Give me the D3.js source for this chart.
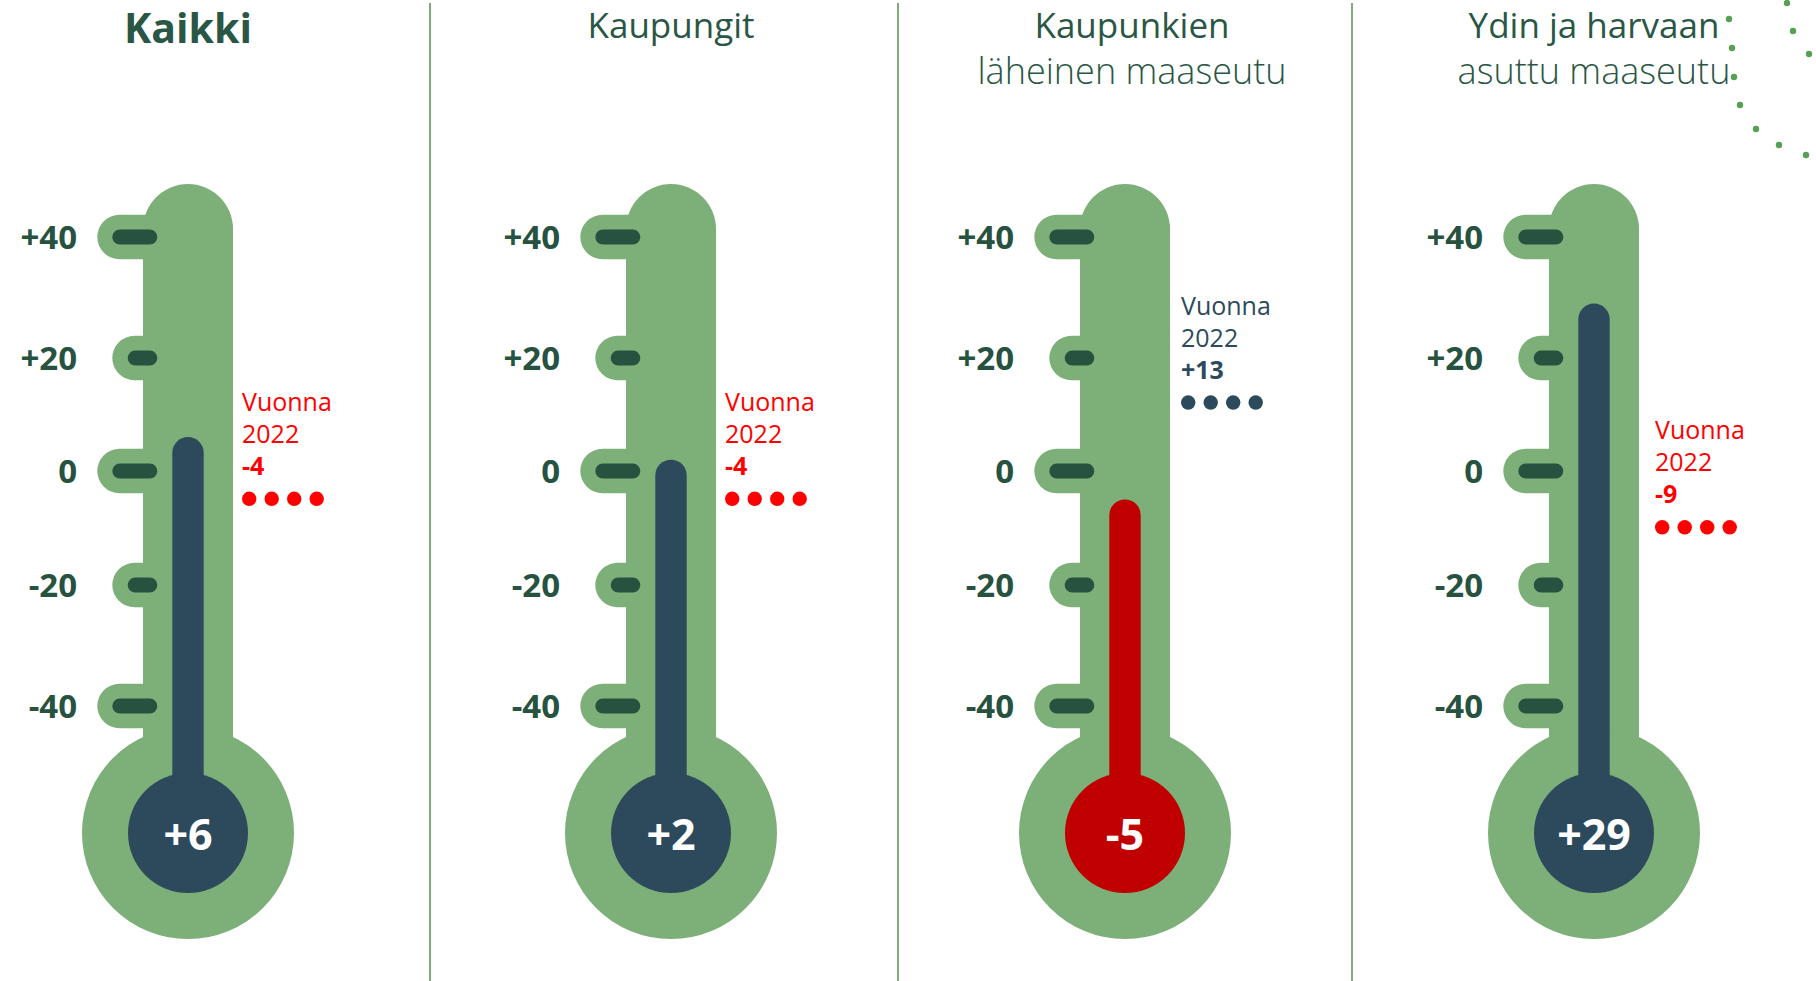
<!DOCTYPE html>
<html>
<head>
<meta charset="utf-8">
<script src="https://cdn.jsdelivr.net/npm/d3@7"></script>
<style>
  html, body { margin: 0; padding: 0; background: #ffffff; }
  svg { display: block; }
  text { font-family: "Open Sans", "Noto Sans", sans-serif; }
</style>
</head>
<body>
<svg id="chart" width="1816" height="981"></svg>
<script>
// ---- data ----
const categories   = ["Kaikki", "Kaupungit", "Kaupunkien läheinen maaseutu", "Ydin ja harvaan asuttu maaseutu"];
const titleLine1   = ["Kaikki", "Kaupungit", "Kaupunkien", "Ydin ja harvaan"];
const titleLine2   = ["", "", "läheinen maaseutu", "asuttu maaseutu"];
const values       = [6, 2, -5, 29];      // current value shown in bulb
const values2022   = [-4, -4, 13, -9];    // "Vuonna 2022" comparison
const prevLabel1   = "Vuonna";
const prevLabel2   = "2022";
const tickValues   = [40, 20, 0, -20, -40];
const tickLabels   = ["+40", "+20", "0", "-20", "-40"];

// ---- layout (not data) ----
const W = 1816, H = 981;
const tubeX = [188, 671, 1125, 1594];
const titleDx = [0, 0, 7, 0];
const annDx = [0, 0, 2, 7];
const dividerX = [430, 898, 1352];
const decorDots = [[1787,3],[1729,19],[1793,31],[1732,48],[1809,54],[1734,77],[1740,105],[1756,129],[1779,145],[1806,155]];

const C = {
  green: "#7daf79",
  tick: "#27523f",
  label: "#27523f",
  title: "#2a5745",
  dark: "#2c4a5b",
  red: "#c00000",
  annRed: "#ff0000",
  decor: "#55a053"
};

const fmt = v => v > 0 ? "+" + v : String(v);

// polylinear scale following the reference's tick placement
const y = d3.scaleLinear().domain([-40, -20, 0, 20, 40]).range([706, 585, 471, 358, 237]);

const svg = d3.select("#chart");

// dividers
svg.selectAll("line.divider").data(dividerX).join("line")
  .attr("class", "divider")
  .attr("x1", d => d).attr("x2", d => d)
  .attr("y1", 3).attr("y2", H)
  .attr("stroke", C.green).attr("stroke-width", 2);

// decoration dots
svg.selectAll("circle.decor").data(decorDots).join("circle")
  .attr("class", "decor")
  .attr("cx", d => d[0]).attr("cy", d => d[1]).attr("r", 3.2)
  .attr("fill", C.decor);

const tubeHalf = 45;
const tubeTop = y(40) - 53;
const bulbCY = y(-40) + 127;
const bulbR = 106;
const innerR = 60;
const mercW = 31.4;

const panels = categories.map((c, i) => ({
  i, c, cx: tubeX[i], v: values[i], p: values2022[i],
  t1: titleLine1[i], t2: titleLine2[i]
}));

const g = svg.selectAll("g.panel").data(panels).join("g")
  .attr("class", "panel")
  .attr("transform", d => `translate(${d.cx},0)`);

// titles
g.append("text")
  .attr("x", d => titleDx[d.i])
  .attr("y", d => d.i === 0 ? 43 : 38)
  .attr("text-anchor", "middle")
  .attr("fill", C.title)
  .attr("font-size", d => d.i === 0 ? 41 : 35)
  .attr("font-weight", d => d.i === 0 ? 700 : 400)
  .text(d => d.t1);
g.filter(d => d.t2).append("text")
  .attr("x", d => titleDx[d.i]).attr("y", 84)
  .attr("text-anchor", "middle")
  .attr("fill", C.title)
  .attr("font-size", 36)
  .attr("font-weight", 300)
  .text(d => d.t2);

// tick bumps (green)
g.each(function() {
  const sel = d3.select(this);
  sel.selectAll("rect.bump").data(tickValues).join("rect")
    .attr("class", "bump")
    .attr("x", t => t % 40 === 0 ? -90.7 : -75.7)
    .attr("width", t => t % 40 === 0 ? 90.7 : 75.7)
    .attr("y", t => y(t) - 22.3)
    .attr("height", 44.6)
    .attr("rx", 22.3)
    .attr("fill", C.green);
});

// tube with rounded top
g.append("path")
  .attr("fill", C.green)
  .attr("d", () => {
    const p = d3.path();
    p.moveTo(-tubeHalf, bulbCY);
    p.lineTo(-tubeHalf, tubeTop + tubeHalf);
    p.arc(0, tubeTop + tubeHalf, tubeHalf, Math.PI, 2 * Math.PI);
    p.lineTo(tubeHalf, bulbCY);
    p.closePath();
    return p.toString();
  });

// bulb
g.append("circle").attr("cx", 0).attr("cy", bulbCY).attr("r", bulbR).attr("fill", C.green);

// dark tick marks + labels
g.each(function() {
  const sel = d3.select(this);
  sel.selectAll("line.tick").data(tickValues).join("line")
    .attr("class", "tick")
    .attr("x1", t => t % 40 === 0 ? -68.2 : -52.8)
    .attr("x2", -38.2)
    .attr("y1", t => y(t)).attr("y2", t => y(t))
    .attr("stroke", C.tick)
    .attr("stroke-width", 15)
    .attr("stroke-linecap", "round");
  sel.selectAll("text.ticklabel").data(tickValues).join("text")
    .attr("class", "ticklabel")
    .attr("x", -111)
    .attr("y", t => y(t) + 11.5)
    .attr("text-anchor", "end")
    .attr("font-size", 33)
    .attr("font-weight", 700)
    .attr("fill", C.label)
    .text((t, j) => tickLabels[j]);
});

// mercury
const mercColor = d => d.v < 0 ? C.red : C.dark;
g.append("rect")
  .attr("x", -mercW / 2)
  .attr("width", mercW)
  .attr("y", d => y(d.v))
  .attr("height", d => bulbCY - y(d.v))
  .attr("rx", mercW / 2)
  .attr("fill", mercColor);
g.append("circle").attr("cx", 0).attr("cy", bulbCY).attr("r", innerR).attr("fill", mercColor);

// bulb value
g.append("text")
  .attr("x", 0).attr("y", bulbCY + 17)
  .attr("text-anchor", "middle")
  .attr("font-size", 43)
  .attr("font-weight", 700)
  .attr("fill", "#ffffff")
  .text(d => fmt(d.v));

// 2022 annotation
const annColor = d => d.p < 0 ? C.annRed : C.dark;
const annX = tubeHalf + 9;
const ann = g.append("g").attr("transform", d => `translate(${annX + annDx[d.i]},${y(d.p) + 5})`);
ann.append("text").attr("x", 0).attr("y", -88)
  .attr("font-size", 25).attr("fill", annColor).text(prevLabel1);
ann.append("text").attr("x", 0).attr("y", -56)
  .attr("font-size", 25).attr("fill", annColor).text(prevLabel2);
ann.append("text").attr("x", 0).attr("y", -24)
  .attr("font-size", 25).attr("font-weight", 700).attr("fill", annColor)
  .text(d => fmt(d.p));
ann.each(function(d) {
  d3.select(this).selectAll("circle").data(d3.range(4)).join("circle")
    .attr("cx", k => 7.2 + k * 22.5)
    .attr("cy", 0)
    .attr("r", 7.2)
    .attr("fill", annColor(d));
});
</script>
</body>
</html>
